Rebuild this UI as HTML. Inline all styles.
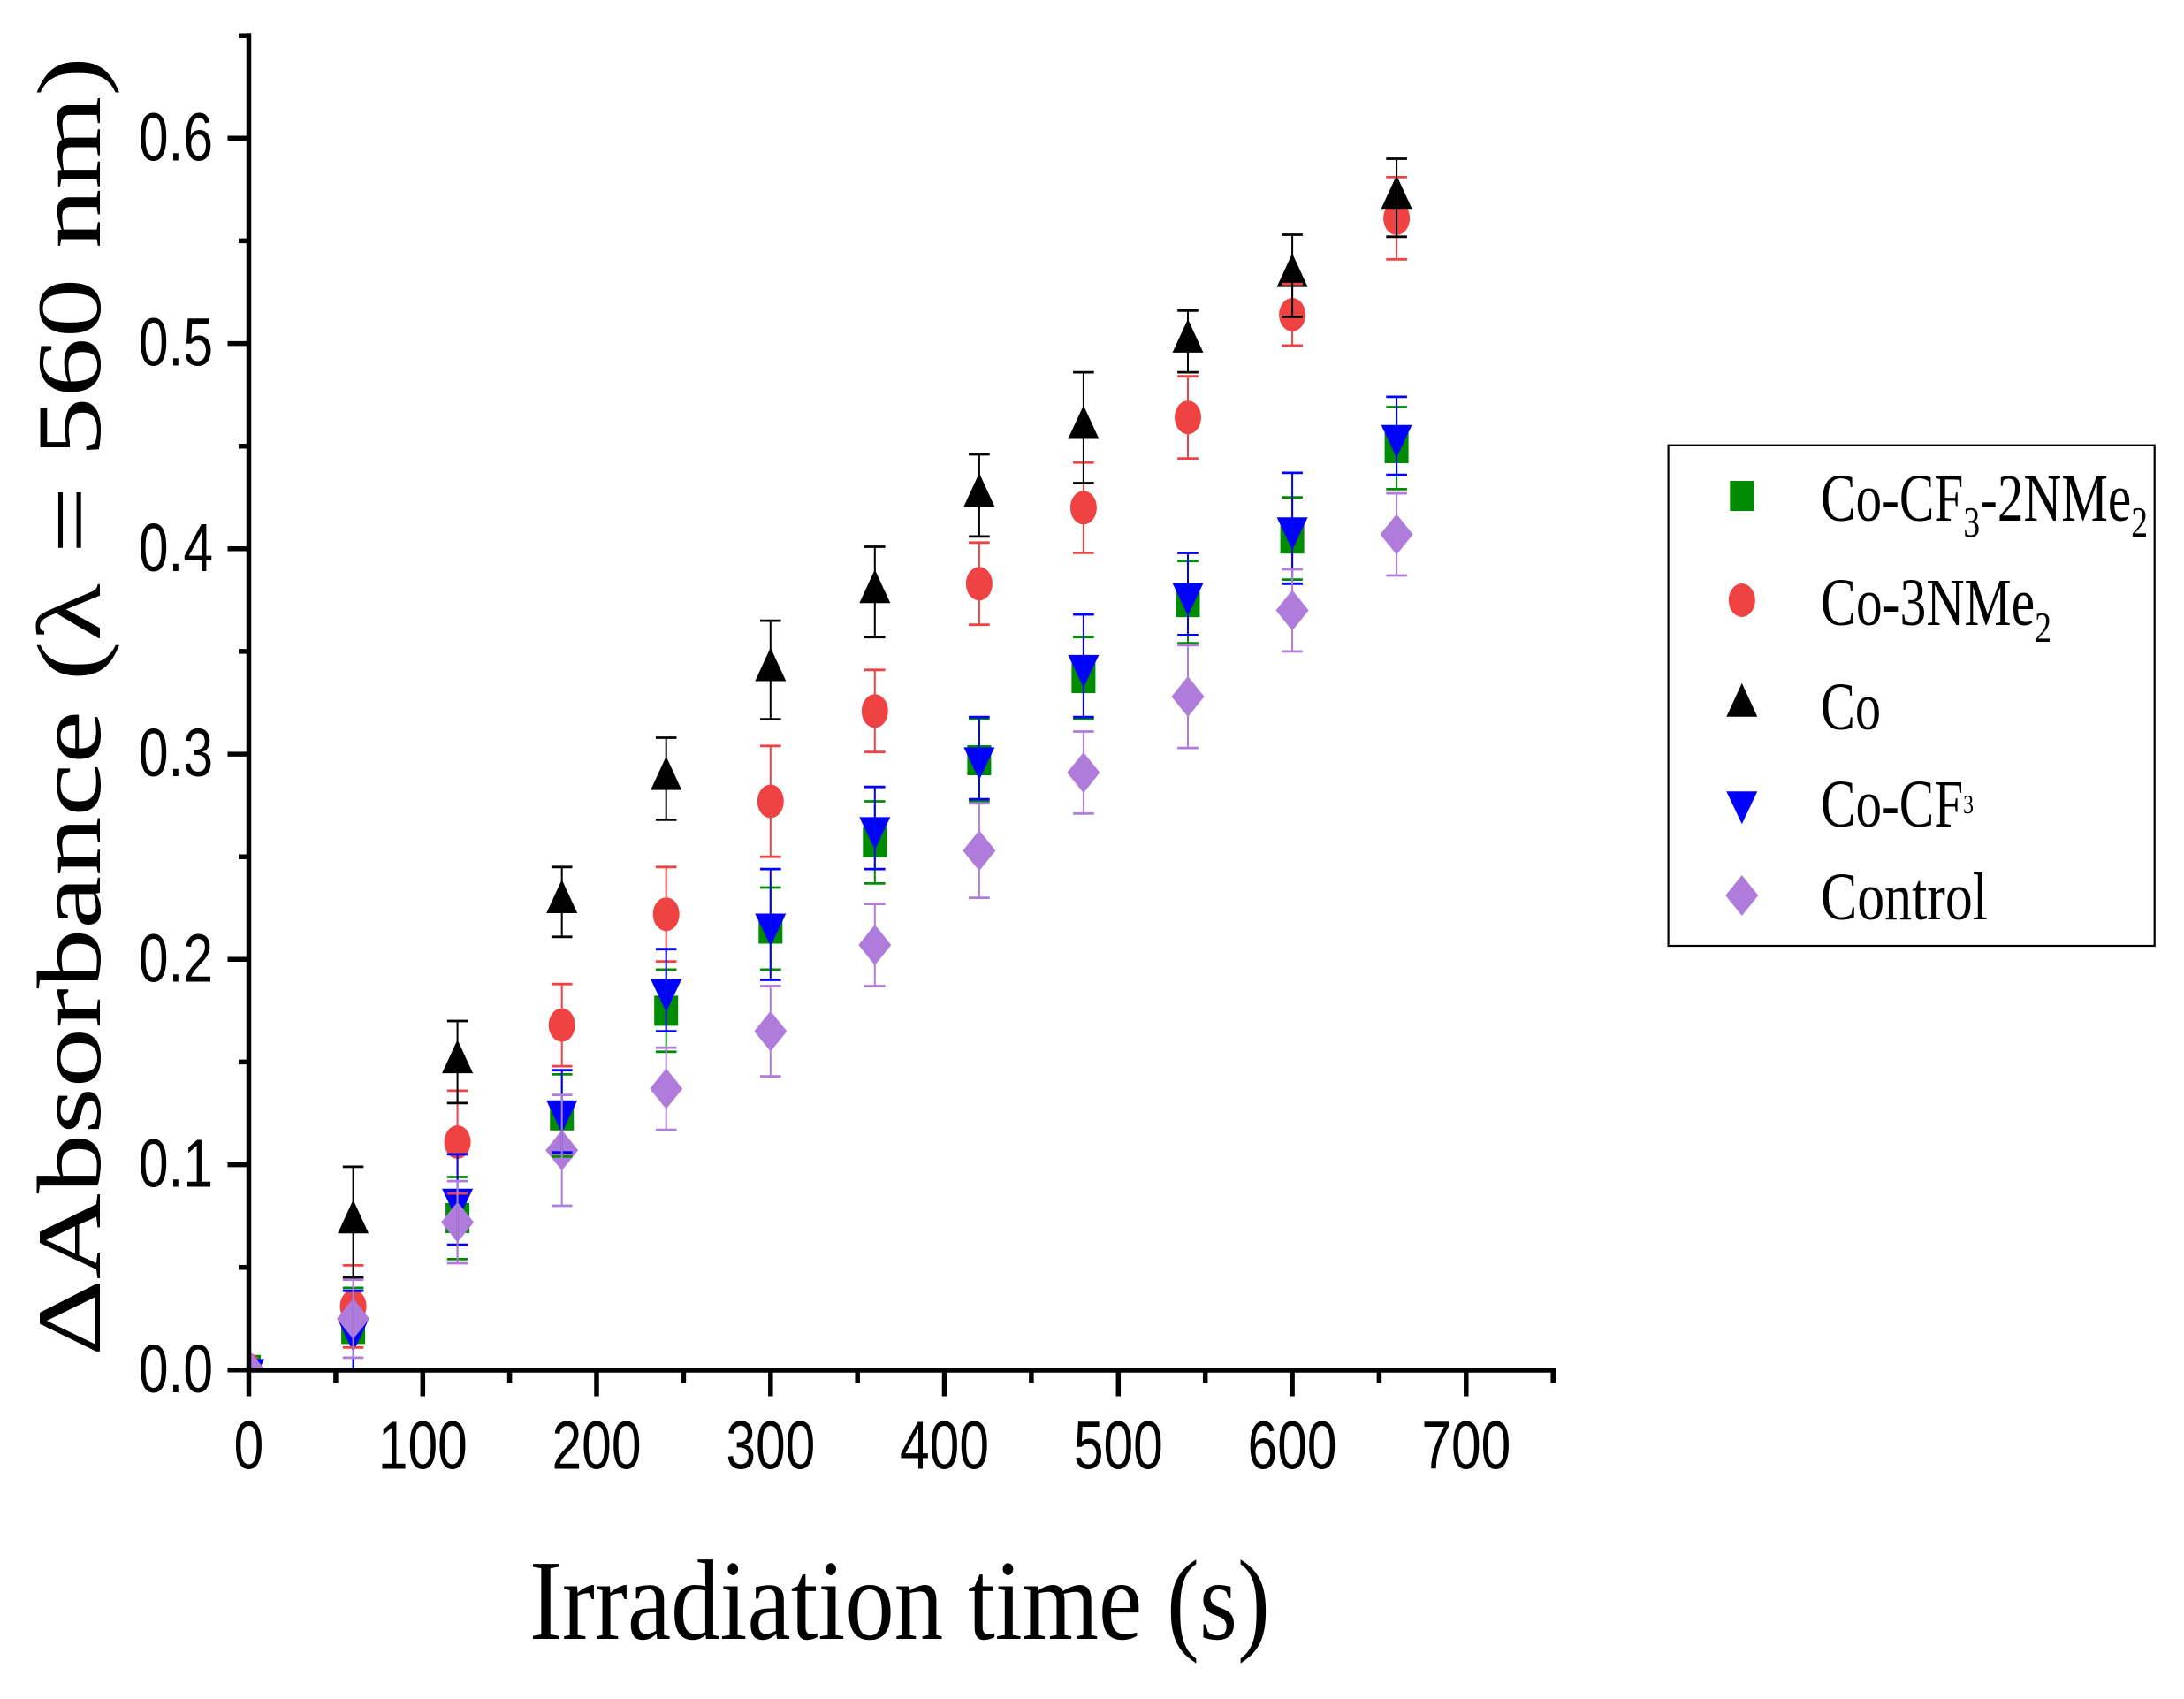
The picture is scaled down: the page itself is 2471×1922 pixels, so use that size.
<!DOCTYPE html>
<html><head><meta charset="utf-8"><style>html,body{margin:0;padding:0;background:#fff;}svg{display:block}</style></head>
<body>
<svg width="2471" height="1922" viewBox="0 0 2471 1922" xmlns="http://www.w3.org/2000/svg" xmlns:xlink="http://www.w3.org/1999/xlink">
<defs>
<clipPath id="c"><rect x="281.5" y="0" width="1500" height="1549.8"/></clipPath>
<rect id="sq" x="-13.5" y="-17" width="27" height="34" fill="#008c00"/>
<ellipse id="ci" cx="0" cy="0" rx="15" ry="19" fill="#ef4343"/>
<polygon id="tu" points="0,-25.3 17.5,12.7 -17.5,12.7" fill="#000"/>
<polygon id="td" points="-17.5,-12.3 17.5,-12.3 0,24.7" fill="#0000ff"/>
<polygon id="di" points="0,-23 18.5,0 0,23 -18.5,0" fill="#b07cdc"/>
</defs>
<rect width="2471" height="1922" fill="#fff"/>

<g clip-path="url(#c)">
<!-- green squares -->
<use href="#sq" x="281.5" y="1549.8"/><use href="#sq" x="399.6" y="1503.4"/><use href="#sq" x="517.6" y="1377.9"/><use href="#sq" x="635.7" y="1261.8"/><use href="#sq" x="753.7" y="1143.4"/><use href="#sq" x="871.8" y="1050.5"/><use href="#sq" x="989.8" y="952.9"/><use href="#sq" x="1107.9" y="860"/><use href="#sq" x="1225.9" y="767.1"/><use href="#sq" x="1344" y="681.2"/><use href="#sq" x="1462.1" y="609.2"/><use href="#sq" x="1580.1" y="507"/>
<!-- red circles -->
<use href="#ci" x="281.5" y="1549.8"/><use href="#ci" x="399.6" y="1477.8"/><use href="#ci" x="517.6" y="1292"/><use href="#ci" x="635.7" y="1159.6"/><use href="#ci" x="753.7" y="1034.2"/><use href="#ci" x="871.8" y="906.5"/><use href="#ci" x="989.8" y="804.3"/><use href="#ci" x="1107.9" y="660.3"/><use href="#ci" x="1225.9" y="574.3"/><use href="#ci" x="1344" y="472.2"/><use href="#ci" x="1462.1" y="356"/><use href="#ci" x="1580.1" y="246.9"/>
<!-- black triangles -->
<use href="#tu" x="281.5" y="1549.8"/><use href="#tu" x="399.6" y="1382.6"/><use href="#tu" x="517.6" y="1201.4"/><use href="#tu" x="635.7" y="1020.3"/><use href="#tu" x="753.7" y="880.9"/><use href="#tu" x="871.8" y="757.8"/><use href="#tu" x="989.8" y="669.6"/><use href="#tu" x="1107.9" y="560.4"/><use href="#tu" x="1225.9" y="483.8"/><use href="#tu" x="1344" y="386.2"/><use href="#tu" x="1462.1" y="311.9"/><use href="#tu" x="1580.1" y="223.6"/>
<!-- blue down triangles -->
<use href="#td" x="281.5" y="1549.8"/><use href="#td" x="399.6" y="1505"/><use href="#td" x="517.6" y="1357"/><use href="#td" x="635.7" y="1257.2"/><use href="#td" x="753.7" y="1120.1"/><use href="#td" x="871.8" y="1045.8"/><use href="#td" x="989.8" y="936.7"/><use href="#td" x="1107.9" y="857.7"/><use href="#td" x="1225.9" y="753.2"/><use href="#td" x="1344" y="671.9"/><use href="#td" x="1462.1" y="597.6"/><use href="#td" x="1580.1" y="493.1"/>
<!-- purple diamonds -->
<use href="#di" x="281.5" y="1549.8"/><use href="#di" x="399.6" y="1491.7"/><use href="#di" x="517.6" y="1382.6"/><use href="#di" x="635.7" y="1301.3"/><use href="#di" x="753.7" y="1231.6"/><use href="#di" x="871.8" y="1166.6"/><use href="#di" x="989.8" y="1069"/><use href="#di" x="1107.9" y="962.2"/><use href="#di" x="1225.9" y="874"/><use href="#di" x="1344" y="788"/><use href="#di" x="1462.1" y="690.5"/><use href="#di" x="1580.1" y="604.5"/>

<!-- error bars: green -->
<g fill="none" stroke="#008c00">
<path stroke-width="2" d="M399.6 1456.9V1549.8M517.6 1331.5V1424.4M635.7 1215.4V1308.3M753.7 1096.9V1189.8M871.8 1004V1096.9M989.8 906.5V999.4M1107.9 813.6V906.5M1225.9 720.7V813.6M1344 634.7V727.6M1462.1 562.7V655.6M1580.1 460.5V553.4"/>
<path stroke-width="2.8" d="M387.8 1456.9h23.6M387.8 1549.8h23.6M505.8 1331.5h23.6M505.8 1424.4h23.6M623.9 1215.4h23.6M623.9 1308.3h23.6M741.9 1096.9h23.6M741.9 1189.8h23.6M860 1004h23.6M860 1096.9h23.6M978 906.5h23.6M978 999.4h23.6M1096.1 813.6h23.6M1096.1 906.5h23.6M1214.1 720.7h23.6M1214.1 813.6h23.6M1332.2 634.7h23.6M1332.2 727.6h23.6M1450.3 562.7h23.6M1450.3 655.6h23.6M1568.3 460.5h23.6M1568.3 553.4h23.6"/>
</g>
<!-- red -->
<g fill="none" stroke="#ef4343">
<path stroke-width="2" d="M399.6 1431.4V1524.3M517.6 1233.9V1350.1M635.7 1113.2V1206.1M753.7 980.8V1087.6M871.8 843.8V969.2M989.8 757.8V850.7M1107.9 613.8V706.7M1225.9 523.2V625.4M1344 425.7V518.6M1462.1 321.2V390.9M1580.1 200.4V293.3"/>
<path stroke-width="2.8" d="M387.8 1431.4h23.6M387.8 1524.3h23.6M505.8 1233.9h23.6M505.8 1350.1h23.6M623.9 1113.2h23.6M623.9 1206.1h23.6M741.9 980.8h23.6M741.9 1087.6h23.6M860 843.8h23.6M860 969.2h23.6M978 757.8h23.6M978 850.7h23.6M1096.1 613.8h23.6M1096.1 706.7h23.6M1214.1 523.2h23.6M1214.1 625.4h23.6M1332.2 425.7h23.6M1332.2 518.6h23.6M1450.3 321.2h23.6M1450.3 390.9h23.6M1568.3 200.4h23.6M1568.3 293.3h23.6"/>
</g>
<!-- black -->
<g fill="none" stroke="#000">
<path stroke-width="2" d="M399.6 1319.9V1445.3M517.6 1155V1247.9M635.7 980.8V1059.8M753.7 834.5V927.4M871.8 702.1V813.6M989.8 618.5V720.7M1107.9 514V606.9M1225.9 421.1V546.5M1344 351.4V421.1M1462.1 265.5V358.4M1580.1 179.5V267.8"/>
<path stroke-width="2.8" d="M387.8 1319.9h23.6M387.8 1445.3h23.6M505.8 1155h23.6M505.8 1247.9h23.6M623.9 980.8h23.6M623.9 1059.8h23.6M741.9 834.5h23.6M741.9 927.4h23.6M860 702.1h23.6M860 813.6h23.6M978 618.5h23.6M978 720.7h23.6M1096.1 514h23.6M1096.1 606.9h23.6M1214.1 421.1h23.6M1214.1 546.5h23.6M1332.2 351.4h23.6M1332.2 421.1h23.6M1450.3 265.5h23.6M1450.3 358.4h23.6M1568.3 179.5h23.6M1568.3 267.8h23.6"/>
</g>
<!-- blue -->
<g fill="none" stroke="#0000ff">
<path stroke-width="2" d="M399.6 1460.2V1549.8M517.6 1305.9V1408.1M635.7 1210.7V1303.6M753.7 1073.7V1166.6M871.8 983.1V1108.5M989.8 890.2V983.1M1107.9 811.2V904.1M1225.9 695.1V811.2M1344 625.5V718.4M1462.1 534.9V660.3M1580.1 448.9V537.2"/>
<path stroke-width="2.8" d="M387.8 1460.2h23.6M387.8 1549.8h23.6M505.8 1305.9h23.6M505.8 1408.1h23.6M623.9 1210.7h23.6M623.9 1303.6h23.6M741.9 1073.7h23.6M741.9 1166.6h23.6M860 983.1h23.6M860 1108.5h23.6M978 890.2h23.6M978 983.1h23.6M1096.1 811.2h23.6M1096.1 904.1h23.6M1214.1 695.1h23.6M1214.1 811.2h23.6M1332.2 625.5h23.6M1332.2 718.4h23.6M1450.3 534.9h23.6M1450.3 660.3h23.6M1568.3 448.9h23.6M1568.3 537.2h23.6"/>
</g>
<!-- purple -->
<g fill="none" stroke="#b07cdc">
<path stroke-width="2" d="M399.6 1447.6V1535.9M517.6 1336.1V1429M635.7 1238.6V1364M753.7 1185.2V1278.1M871.8 1115.5V1217.7M989.8 1022.6V1115.5M1107.9 908.8V1015.6M1225.9 827.5V920.4M1344 729.9V846.1M1462.1 644V736.9M1580.1 558.1V651"/>
<path stroke-width="2.8" d="M387.8 1447.6h23.6M387.8 1535.9h23.6M505.8 1336.1h23.6M505.8 1429h23.6M623.9 1238.6h23.6M623.9 1364h23.6M741.9 1185.2h23.6M741.9 1278.1h23.6M860 1115.5h23.6M860 1217.7h23.6M978 1022.6h23.6M978 1115.5h23.6M1096.1 908.8h23.6M1096.1 1015.6h23.6M1214.1 827.5h23.6M1214.1 920.4h23.6M1332.2 729.9h23.6M1332.2 846.1h23.6M1450.3 644h23.6M1450.3 736.9h23.6M1568.3 558.1h23.6M1568.3 651h23.6"/>
</g>
</g>

<!-- axes -->
<g stroke="#000" fill="none" stroke-width="5.5">
<path d="M281.5 37.3V1552.7"/>
<path d="M278.7 1550H1760"/>
<!-- y major ticks -->
<path d="M257.5 1549.8H281.5M257.5 1317.6H281.5M257.5 1085.3H281.5M257.5 853.1H281.5M257.5 620.8H281.5M257.5 388.6H281.5M257.5 156.3H281.5"/>
<!-- y minor ticks -->
<path d="M270 1433.7H281.5M270 1201.4H281.5M270 969.2H281.5M270 736.9H281.5M270 504.7H281.5M270 272.4H281.5M270 40.2H281.5"/>
<!-- x major ticks -->
<path d="M281.5 1550V1579.5M478.3 1550V1579.5M675 1550V1579.5M871.8 1550V1579.5M1068.5 1550V1579.5M1265.3 1550V1579.5M1462.1 1550V1579.5M1658.8 1550V1579.5"/>
<!-- x minor ticks -->
<path d="M379.9 1550V1564.5M576.6 1550V1564.5M773.4 1550V1564.5M970.2 1550V1564.5M1166.9 1550V1564.5M1363.7 1550V1564.5M1560.4 1550V1564.5M1757.2 1550V1564.5"/>
</g>

<!-- y tick labels -->
<g font-family="'Liberation Sans', Arial, sans-serif" font-size="60.5" fill="#000" text-anchor="end">
<text transform="translate(241,1574.8) scale(1,1.27)">0.0</text>
<text transform="translate(241,1342.6) scale(1,1.27)">0.1</text>
<text transform="translate(241,1110.3) scale(1,1.27)">0.2</text>
<text transform="translate(241,878.1) scale(1,1.27)">0.3</text>
<text transform="translate(241,645.8) scale(1,1.27)">0.4</text>
<text transform="translate(241,413.6) scale(1,1.27)">0.5</text>
<text transform="translate(241,181.3) scale(1,1.27)">0.6</text>
</g>
<!-- x tick labels -->
<g font-family="'Liberation Sans', Arial, sans-serif" font-size="60.5" fill="#000" text-anchor="middle">
<text transform="translate(281.5,1661.5) scale(1,1.27)">0</text>
<text transform="translate(478.3,1661.5) scale(1,1.27)">100</text>
<text transform="translate(675,1661.5) scale(1,1.27)">200</text>
<text transform="translate(871.8,1661.5) scale(1,1.27)">300</text>
<text transform="translate(1068.5,1661.5) scale(1,1.27)">400</text>
<text transform="translate(1265.3,1661.5) scale(1,1.27)">500</text>
<text transform="translate(1462.1,1661.5) scale(1,1.27)">600</text>
<text transform="translate(1658.8,1661.5) scale(1,1.27)">700</text>
</g>

<!-- axis titles -->
<text transform="translate(599,1854) scale(1,1.27)" font-family="'Liberation Serif', 'Times New Roman', serif" font-size="102" textLength="838" lengthAdjust="spacingAndGlyphs" fill="#000">Irradiation time (s)</text>
<text transform="translate(113,1534) rotate(-90)" font-family="'Liberation Serif', 'Times New Roman', serif" font-size="103" textLength="1470" lengthAdjust="spacingAndGlyphs" fill="#000">ΔAbsorbance (λ = 560 nm)</text>

<!-- legend -->
<rect x="1887.6" y="503.7" width="550.1" height="566.3" fill="none" stroke="#000" stroke-width="2.2"/>
<use href="#sq" x="1970.8" y="561"/>
<use href="#ci" x="1970.8" y="679"/>
<use href="#tu" x="1970.8" y="798"/>
<use href="#td" x="1970.8" y="907.5"/>
<use href="#di" x="1970.8" y="1013"/>
<g font-family="'Liberation Serif', 'Times New Roman', serif" font-size="60" fill="#000">
<text transform="translate(2060,589) scale(1,1.27)" textLength="370" lengthAdjust="spacingAndGlyphs">Co-CF<tspan font-size="38" dy="14">3</tspan><tspan dy="-14">-2NMe</tspan><tspan font-size="38" dy="14">2</tspan></text>
<text transform="translate(2060,707) scale(1,1.27)" textLength="261" lengthAdjust="spacingAndGlyphs">Co-3NMe<tspan font-size="38" dy="15">2</tspan></text>
<text transform="translate(2060,825) scale(1,1.27)" textLength="68" lengthAdjust="spacingAndGlyphs">Co</text>
<text transform="translate(2060,935) scale(1,1.27)" textLength="173" lengthAdjust="spacingAndGlyphs">Co-CF<tspan font-size="24" dy="-12">3</tspan></text>
<text transform="translate(2060,1040) scale(1,1.27)" textLength="189" lengthAdjust="spacingAndGlyphs">Control</text>
</g>
</svg>
</body></html>
